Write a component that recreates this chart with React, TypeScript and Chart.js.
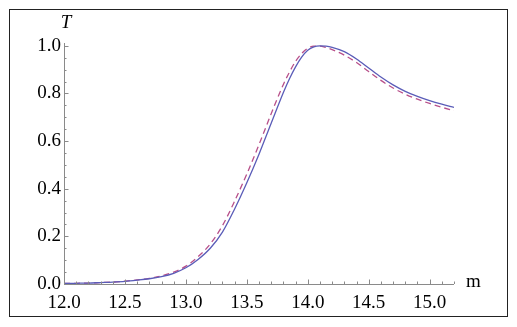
import React, { useEffect, useRef } from "react";
import { Chart, registerables } from "chart.js";

Chart.register(...registerables);

const xValues = [12.0, 12.1, 12.2, 12.3, 12.4, 12.5, 12.6, 12.7, 12.8, 12.9, 13.0, 13.1, 13.2, 13.3, 13.4, 13.5, 13.6, 13.7, 13.8, 13.85, 13.9, 13.95, 14.0, 14.05, 14.1, 14.15, 14.2, 14.3, 14.4, 14.5, 14.6, 14.7, 14.8, 14.9, 15.0, 15.1, 15.2];
const solidT = [0.002, 0.003, 0.004, 0.006, 0.008, 0.011, 0.016, 0.022, 0.031, 0.045, 0.068, 0.103, 0.15, 0.218, 0.315, 0.425, 0.545, 0.675, 0.804, 0.862, 0.912, 0.953, 0.982, 0.996, 1.0, 0.999, 0.994, 0.976, 0.945, 0.907, 0.869, 0.836, 0.809, 0.788, 0.77, 0.755, 0.742];
const dashedT = [0.002, 0.003, 0.004, 0.006, 0.008, 0.012, 0.017, 0.024, 0.034, 0.05, 0.075, 0.115, 0.168, 0.245, 0.348, 0.462, 0.585, 0.715, 0.838, 0.89, 0.935, 0.968, 0.99, 0.999, 0.999, 0.993, 0.984, 0.961, 0.93, 0.892, 0.855, 0.823, 0.797, 0.776, 0.758, 0.742, 0.728];

const xMajorTicks = [12.0, 12.5, 13.0, 13.5, 14.0, 14.5, 15.0];
const yMajorTicks = [0.0, 0.2, 0.4, 0.6, 0.8, 1.0];
const xAxisLabel = "m";
const yAxisLabel = "T";

const FONT = "'Liberation Serif', 'Times New Roman', 'DejaVu Serif', serif";
const FONT_SIZE = 19;

Chart.defaults.font.family = FONT;
Chart.defaults.font.size = FONT_SIZE;
Chart.defaults.color = "#000";

function isMajor(v: number, list: number[]) {
  return list.some((m) => Math.abs(m - v) < 1e-6);
}

export default function App() {
  const ref = useRef<HTMLCanvasElement | null>(null);

  useEffect(() => {
    if (!ref.current) return;
    let chart: any = null;
    let cancelled = false;

    const axesPlugin = {
      id: "mathAxes",
      afterDatasetsDraw(c: any) {
        const ctx = c.ctx;
        const xs = c.scales.x;
        const ys = c.scales.y;
        const y0 = ys.getPixelForValue(0);
        const x0 = xs.getPixelForValue(12);
        ctx.save();
        ctx.strokeStyle = "#8a8a8a";
        ctx.lineWidth = 1;
        ctx.beginPath();
        ctx.moveTo(xs.left, Math.round(y0) + 0.5);
        ctx.lineTo(xs.right, Math.round(y0) + 0.5);
        ctx.moveTo(Math.round(x0) + 0.5, ys.top);
        ctx.lineTo(Math.round(x0) + 0.5, ys.bottom);
        for (let i = 0; i <= 32; i++) {
          const v = 12 + i * 0.1;
          const px = Math.round(xs.getPixelForValue(v)) + 0.5;
          const len = isMajor(v, xMajorTicks) ? 4.5 : 2.5;
          ctx.moveTo(px, y0);
          ctx.lineTo(px, y0 - len);
        }
        for (let i = 0; i <= 20; i++) {
          const v = i * 0.05;
          const py = Math.round(ys.getPixelForValue(v)) + 0.5;
          const len = isMajor(v, yMajorTicks) ? 4.5 : 2.5;
          ctx.moveTo(x0, py);
          ctx.lineTo(x0 + len, py);
        }
        ctx.stroke();
        ctx.fillStyle = "#000";
        ctx.font = "italic " + FONT_SIZE + "px " + FONT;
        ctx.textAlign = "center";
        ctx.textBaseline = "middle";
        ctx.fillText(yAxisLabel, x0 + 2, ys.top - 20);
        ctx.font = FONT_SIZE + "px " + FONT;
        ctx.textAlign = "left";
        ctx.fillText(xAxisLabel, xs.right + 12, y0 - 2);
        ctx.restore();
      },
    };

    const make = () => {
      if (cancelled || !ref.current) return;
      chart = new Chart(ref.current, {
        type: "line",
        data: {
          datasets: [
            {
              data: xValues.map((x, i) => ({ x, y: solidT[i] })),
              borderColor: "#5a5cb8",
              borderWidth: 1.3,
              pointRadius: 0,
              cubicInterpolationMode: "monotone",
              fill: false,
            },
            {
              data: xValues.map((x, i) => ({ x, y: dashedT[i] })),
              borderColor: "#b8508a",
              borderWidth: 1.3,
              borderDash: [6, 4],
              pointRadius: 0,
              cubicInterpolationMode: "monotone",
              fill: false,
            },
          ],
        },
        options: {
          animation: false,
          responsive: false,
          layout: { padding: { top: 33, right: 53, left: 0, bottom: 0 } },
          plugins: { legend: { display: false }, tooltip: { enabled: false } },
          scales: {
            x: {
              type: "linear",
              min: 12,
              max: 15.2,
              border: { display: false },
              grid: { display: false, drawTicks: false },
              afterBuildTicks: (scale: any) => {
                scale.ticks = xMajorTicks.map((v) => ({ value: v }));
              },
              afterFit: (scale: any) => {
                scale.height = 32;
              },
              ticks: {
                autoSkip: false,
                maxRotation: 0,
                padding: 8,
                color: "#000",
                font: { family: FONT, size: FONT_SIZE, style: "normal" },
                callback: (v: any) => Number(v).toFixed(1),
              },
            },
            y: {
              type: "linear",
              min: 0,
              max: 1.012,
              border: { display: false },
              grid: { display: false, drawTicks: false },
              afterBuildTicks: (scale: any) => {
                scale.ticks = yMajorTicks.map((v) => ({ value: v }));
              },
              afterFit: (scale: any) => {
                scale.width = 54;
              },
              ticks: {
                autoSkip: false,
                padding: 3,
                color: "#000",
                font: { family: FONT, size: FONT_SIZE, style: "normal" },
                callback: (v: any) => Number(v).toFixed(1),
              },
            },
          },
        },
        plugins: [axesPlugin],
      } as any);
    };

    const fonts: any = (document as any).fonts;
    if (fonts && fonts.load) {
      Promise.all([
        fonts.load(FONT_SIZE + "px 'Liberation Serif'"),
        fonts.load("italic " + FONT_SIZE + "px 'Liberation Serif'"),
      ])
        .catch(() => null)
        .then(make);
    } else {
      make();
    }

    return () => {
      cancelled = true;
      if (chart) chart.destroy();
    };
  }, []);

  return (
    <div
      style={{
        width: 497,
        height: 306,
        border: "1px solid #222",
        margin: "1px 0 0 1px",
        background: "#fff",
      }}
    >
      <canvas ref={ref} width={497} height={306} style={{ display: "block" }} />
    </div>
  );
}
